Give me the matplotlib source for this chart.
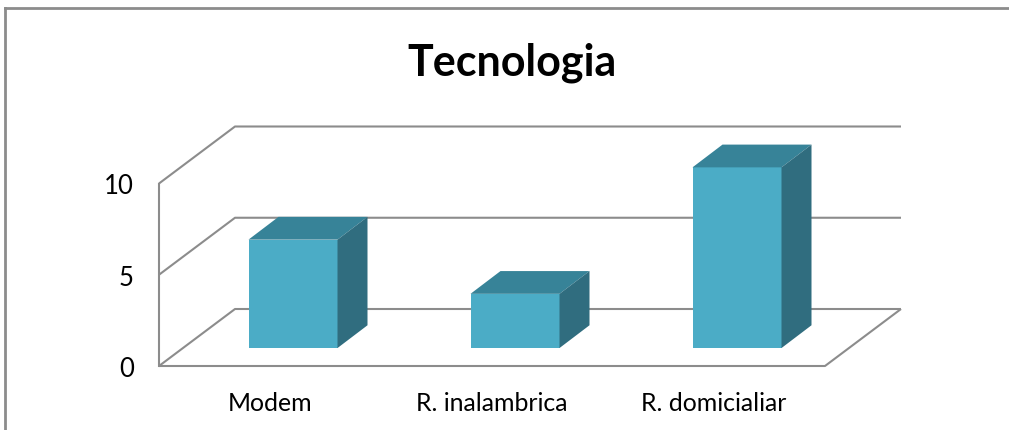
import matplotlib
matplotlib.use('Agg')
import matplotlib.pyplot as plt
from matplotlib.patches import Polygon
from matplotlib.transforms import Affine2D

categories = ['Modem', 'R. inalambrica', 'R. domicialiar']
values = [6, 3, 10]
y_ticks = [0, 5, 10]

front_color = '#4bacc6'
top_color = '#378398'
side_color = '#306d7f'
grid_color = '#8c8c8c'

plt.rcParams['font.family'] = ['Lato', 'DejaVu Sans']

W, H = 1009, 431
fig = plt.figure(figsize=(W / 100, H / 100), dpi=100)

# axes = front plane of the 3d box, in pixels of the reference
left, right, top, bottom = 159, 825, 184.5, 367
ax = fig.add_axes([left / W, 1 - bottom / H, (right - left) / W, (bottom - top) / H])
ax.set_xlim(-0.5, 2.5)
ax.set_ylim(0, 10)
ax.patch.set_alpha(0)
for s in ['top', 'right', 'bottom']:
    ax.spines[s].set_visible(False)
ax.spines['left'].set_color(grid_color)
ax.spines['left'].set_linewidth(1.5)

px_x = 3 / (right - left)
px_y = 10 / (bottom - top)

# walls and floor
wall_dx, wall_dy = 76 * px_x, 57 * px_y
wall_kw = dict(color=grid_color, lw=1.5, clip_on=False, zorder=1, solid_capstyle='butt')
x0, x1 = -0.5, 2.5
for t in y_ticks:
    ax.plot([x0, x0 + wall_dx, x1 + wall_dx], [t, t + wall_dy, t + wall_dy], **wall_kw)
ax.plot([x0, x1, x1 + wall_dx], [0, 0, wall_dy], **wall_kw)

# bars sit part way back on the floor, perspective makes them a bit smaller
shift = Affine2D().scale(1, 0.99).translate(23, 18.6)
bar_w = 89 * px_x
bar_dx, bar_dy = 30 * px_x, 23 * px_y
ax.bar(range(len(values)), values, width=bar_w, color=front_color, zorder=3,
       transform=ax.transData + shift, clip_on=False)
for i, v in enumerate(values):
    xl, xr = i - bar_w / 2, i + bar_w / 2
    top_pts = [(xl, v), (xr, v), (xr + bar_dx, v + bar_dy), (xl + bar_dx, v + bar_dy)]
    side_pts = [(xr, 0), (xr + bar_dx, bar_dy), (xr + bar_dx, v + bar_dy), (xr, v)]
    ax.add_patch(Polygon(top_pts, fc=top_color, ec='none', zorder=3, clip_on=False,
                         transform=ax.transData + shift))
    ax.add_patch(Polygon(side_pts, fc=side_color, ec='none', zorder=3, clip_on=False,
                         transform=ax.transData + shift))

ax.set_xticks(range(len(categories)))
ax.set_xticklabels(categories, fontsize=17.9)
ax.set_yticks(y_ticks)
ax.set_yticklabels([str(t) for t in y_ticks], fontsize=18.5)
ax.tick_params(axis='x', length=0, pad=18, colors='black')
ax.tick_params(axis='y', length=0, pad=18, colors='black')

fig.text(512 / W, 1 - 63 / H, 'Tecnologia', fontsize=31, fontweight='bold',
         ha='center', va='center')

# chart frame, open at the bottom and right like the crop
frame = dict(color='#8c8c8c', lw=2, transform=fig.transFigure, clip_on=False)
fig.add_artist(plt.Line2D([5 / W, 5 / W], [0, 1 - 9 / H], **frame))
fig.add_artist(plt.Line2D([5 / W, 1], [1 - 9 / H, 1 - 9 / H], **frame))

fig.savefig('out.png', dpi=100)
